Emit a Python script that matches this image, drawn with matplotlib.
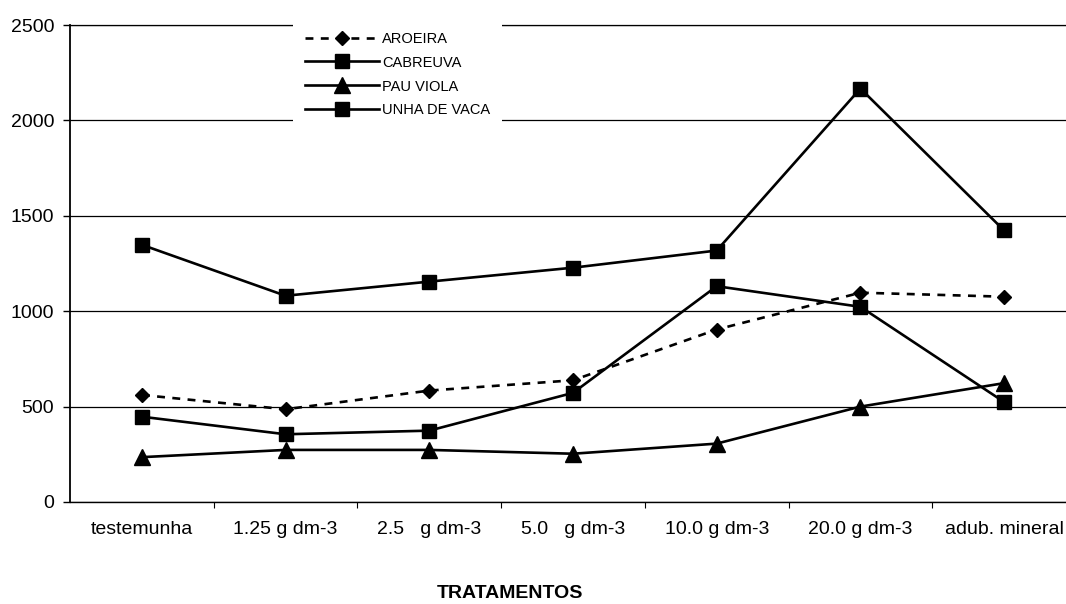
import matplotlib
matplotlib.use("Agg")
import matplotlib.pyplot as plt
from matplotlib.ticker import FixedLocator

categories = ["testemunha", "1.25 g dm-3", "2.5   g dm-3", "5.0   g dm-3",
              "10.0 g dm-3", "20.0 g dm-3", "adub. mineral"]
aroeira = [561, 486, 584, 638, 904, 1097, 1076]
cabreuva = [447, 355, 374, 572, 1131, 1023, 524]
pau_viola = [235, 273, 273, 253, 306, 500, 623]
unha_de_vaca = [1348, 1081, 1155, 1228, 1318, 2167, 1423]
y_ticks = [0, 500, 1000, 1500, 2000, 2500]

plt.rcParams['font.family'] = ['Liberation Sans', 'DejaVu Sans']

W, H = 1066, 604
fig = plt.figure(figsize=(W / 100, H / 100), dpi=100)
ax = fig.add_axes([70 / W, (H - 502) / H, 1006 / W, 477 / H])

x = list(range(len(categories)))
lw = 1.9
ax.plot(x, aroeira, color='black', lw=lw, linestyle=(0, (3, 2.8)),
        marker='D', markersize=7, label='AROEIRA', zorder=3)
ax.plot(x, cabreuva, color='black', lw=lw, marker='s', markersize=10,
        label='CABREUVA', zorder=3)
ax.plot(x, pau_viola, color='black', lw=lw, marker='^', markersize=11,
        label='PAU VIOLA', zorder=3)
ax.plot(x, unha_de_vaca, color='black', lw=lw, marker='s', markersize=10,
        label='UNHA DE VACA', zorder=3)

ax.set_xlim(-0.5, len(categories) - 0.5)
ax.set_ylim(0, 2500)
ax.set_yticks(y_ticks)
ax.set_xticks(x)
ax.set_xticklabels(categories)
ax.xaxis.set_minor_locator(FixedLocator([i + 0.5 for i in range(len(categories) - 1)]))
ax.tick_params(axis='x', which='major', length=0, pad=13.5, labelsize=14)
ax.tick_params(axis='x', which='minor', length=4, direction='out', width=0.8)
ax.tick_params(axis='y', length=5, direction='out', width=1, pad=6.5, labelsize=14)

ax.yaxis.grid(True, color='black', lw=0.9)
ax.set_axisbelow(True)
ax.spines['right'].set_visible(False)
ax.spines['top'].set_linewidth(0.9)
ax.spines['left'].set_linewidth(1.3)
ax.spines['bottom'].set_linewidth(1.0)

leg = ax.legend(loc='upper left', bbox_to_anchor=(293 / W, 1 - 20 / H),
                bbox_transform=fig.transFigure, frameon=True, fancybox=False,
                facecolor='white', edgecolor='none', framealpha=1,
                fontsize=10.5, handlelength=5.1, handletextpad=0.2,
                labelspacing=0.68, numpoints=1, borderpad=0.8,
                borderaxespad=0)
leg.set_zorder(5)

fig.text(510 / W, 1 - 594 / H, 'TRATAMENTOS', ha='center', va='center',
         fontsize=14, fontweight='bold')

fig.savefig('out.png', dpi=100)
